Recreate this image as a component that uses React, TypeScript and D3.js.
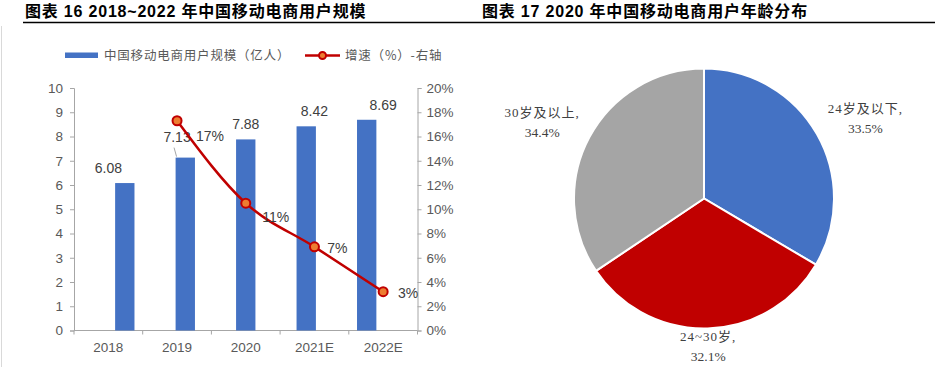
import { useEffect, useRef } from "react";
import * as d3 from "d3";

// bar + line chart data
const years: string[] = ["2018", "2019", "2020", "2021E", "2022E"];
const users: number[] = [6.08, 7.13, 7.88, 8.42, 8.69];
const growth: (number | null)[] = [null, 17.3, 10.5, 6.9, 3.2];
const growthLabels: string[] = ["", "17%", "11%", "7%", "3%"];
const leftTicks: number[] = [0, 1, 2, 3, 4, 5, 6, 7, 8, 9, 10];
const rightTicks: number[] = [0, 2, 4, 6, 8, 10, 12, 14, 16, 18, 20];

// pie data
const ageGroups: string[] = ["24岁及以下", "24~30岁", "30岁及以上"];
const agePct: number[] = [33.5, 32.1, 34.4];
const pieColors: string[] = ["#4472C4", "#C00000", "#A5A5A5"];

const BLUE = "#4472C4";
const RED = "#C00000";
const AXIS = "#A6A6A6";
const TXT = "#595959";
const SANS = "'Liberation Sans', Arial, 'Noto Sans CJK SC', sans-serif";
const CJK = "'Noto Sans CJK SC', sans-serif";
const SERIF = "'Liberation Serif', 'Times New Roman', 'Noto Sans CJK SC', serif";

function App() {
  const svgRef = useRef<SVGSVGElement>(null);

  useEffect(() => {
    if (!svgRef.current) return;
    const svg = d3.select(svgRef.current);
    svg.selectAll("*").remove();

    // titles + rule
    svg.append("line").attr("x1", 1.5).attr("x2", 1.5).attr("y1", 26).attr("y2", 367)
      .attr("stroke", "#d9d9d9").attr("stroke-width", 1);
    svg.append("line").attr("x1", 23).attr("x2", 935).attr("y1", 22.5).attr("y2", 22.5)
      .attr("stroke", "#000").attr("stroke-width", 1.5);

    const titles = [
      { x: 25, text: "图表 16 2018~2022 年中国移动电商用户规模" },
      { x: 482, text: "图表 17 2020 年中国移动电商用户年龄分布" },
    ];
    svg.selectAll(".title").data(titles).join("text")
      .attr("class", "title")
      .attr("x", d => d.x).attr("y", 16.5)
      .attr("font-family", SANS).attr("font-weight", "bold")
      .attr("font-size", 16).attr("letter-spacing", 0.8)
      .attr("fill", "#000")
      .text(d => d.text);

    // ---------- left chart ----------
    const x = d3.scaleBand().domain(years).range([74, 417.5]).padding(0.68);
    const xOuter = d3.scaleBand().domain(years).range([74, 417.5]);
    const y = d3.scaleLinear().domain([0, 10]).range([330.5, 88]);
    const yR = d3.scaleLinear().domain([0, 20]).range([330.5, 88]);

    const g = svg.append("g");

    // left axis
    const la = g.append("g").attr("transform", "translate(74,0)")
      .call(d3.axisLeft(y).tickValues(leftTicks).tickSize(4).tickPadding(7));
    // right axis
    const ra = g.append("g").attr("transform", "translate(417.5,0)")
      .call(d3.axisRight(yR).tickValues(rightTicks).tickSize(4).tickPadding(5)
        .tickFormat(d => `${d}%`));
    // bottom axis with ticks at category boundaries
    const bounds = years.map(c => xOuter(c)!).concat([417.5]);
    const ba = g.append("g").attr("transform", "translate(0,330.5)");
    ba.append("line").attr("x1", 74).attr("x2", 417.5).attr("stroke", AXIS);
    ba.selectAll(".bt").data(bounds).join("line").attr("class", "bt")
      .attr("x1", d => d).attr("x2", d => d).attr("y1", 0).attr("y2", 4).attr("stroke", AXIS);
    ba.selectAll(".bl").data(years).join("text").attr("class", "bl")
      .attr("x", d => xOuter(d)! + xOuter.bandwidth() / 2).attr("y", 21)
      .attr("text-anchor", "middle").attr("font-family", SANS).attr("font-size", 13.5)
      .attr("fill", TXT).text(d => d);

    [la, ra].forEach(a => {
      a.select(".domain").attr("stroke", AXIS);
      a.selectAll(".tick line").attr("stroke", AXIS);
      a.selectAll(".tick text").attr("font-family", SANS).attr("font-size", 13.5).attr("fill", TXT);
    });

    // bars
    g.selectAll(".bar").data(users).join("rect").attr("class", "bar")
      .attr("x", (_, i) => x(years[i])!)
      .attr("y", d => y(d))
      .attr("width", x.bandwidth())
      .attr("height", d => y(0) - y(d))
      .attr("fill", BLUE);

    // bar labels (2019 label lifted with a leader line)
    const lift = [0, 6, 0, 0, 0];
    const cx = (i: number) => xOuter(years[i])! + xOuter.bandwidth() / 2;
    g.selectAll(".bv").data(users).join("text").attr("class", "bv")
      .attr("x", (_, i) => cx(i))
      .attr("y", (d, i) => y(d) - 10 - lift[i])
      .attr("text-anchor", "middle").attr("font-family", SANS).attr("font-size", 14)
      .attr("fill", "#404040").text(d => d.toFixed(2));
    g.append("line")
      .attr("x1", cx(1) - 3).attr("y1", y(users[1]) - 10)
      .attr("x2", cx(1) - 0.5).attr("y2", y(users[1]) - 1)
      .attr("stroke", "#a6a6a6").attr("stroke-width", 1);

    // growth line
    const pts = growth.map((v, i) => ({ v, i })).filter(d => d.v !== null) as { v: number; i: number }[];
    const line = d3.line<{ v: number; i: number }>()
      .x(d => cx(d.i)).y(d => yR(d.v)).curve(d3.curveMonotoneX);
    g.append("path").datum(pts).attr("d", line)
      .attr("fill", "none").attr("stroke", RED).attr("stroke-width", 2.5);
    g.selectAll(".mk").data(pts).join("circle").attr("class", "mk")
      .attr("cx", d => cx(d.i)).attr("cy", d => yR(d.v)).attr("r", 4.5)
      .attr("fill", "#ED7D31").attr("stroke", RED).attr("stroke-width", 2);

    const gOff = [[0, 0], [0, 0], [33, 20], [30, 19], [23, 6], [25, 6]];
    g.selectAll(".gl").data(pts).join("text").attr("class", "gl")
      .attr("x", d => cx(d.i) + gOff[d.i + 1][0])
      .attr("y", d => yR(d.v) + gOff[d.i + 1][1])
      .attr("text-anchor", "middle").attr("font-family", SANS).attr("font-size", 14)
      .attr("fill", "#404040").text(d => growthLabels[d.i]);

    // legend
    const lg = svg.append("g");
    lg.append("rect").attr("x", 65).attr("y", 52.5).attr("width", 33).attr("height", 5.5).attr("fill", BLUE);
    lg.append("text").attr("x", 104).attr("y", 60).attr("font-family", CJK).attr("font-size", 12.5)
      .attr("letter-spacing", 0.8).attr("fill", TXT).text("中国移动电商用户规模（亿人）");
    lg.append("line").attr("x1", 305).attr("x2", 340).attr("y1", 55.5).attr("y2", 55.5)
      .attr("stroke", RED).attr("stroke-width", 2.5);
    lg.append("circle").attr("cx", 322.5).attr("cy", 55.5).attr("r", 3.5)
      .attr("fill", "#ED7D31").attr("stroke", RED).attr("stroke-width", 2);
    lg.append("text").attr("x", 345).attr("y", 60).attr("font-family", CJK).attr("font-size", 12.5)
      .attr("letter-spacing", 0.8).attr("fill", TXT).text("增速（%）-右轴");

    // ---------- pie ----------
    const pc = { x: 704, y: 198.5 };
    const R = 130;
    const pie = d3.pie<number>().sort(null).value(d => d);
    const arcs = pie(agePct);
    const arc = d3.arc<d3.PieArcDatum<number>>().innerRadius(0).outerRadius(R);
    const pg = svg.append("g").attr("transform", `translate(${pc.x},${pc.y})`);
    pg.selectAll("path").data(arcs).join("path")
      .attr("d", arc).attr("fill", (_, i) => pieColors[i])
      .attr("stroke", "#fff").attr("stroke-width", 2);

    const labelR = [180, 149, 180];
    const labelShift = [[5, 9], [0, -1], [-3, 9]];
    const lab = pg.selectAll(".pl").data(arcs).join("text").attr("class", "pl")
      .attr("transform", (d, i) => {
        const a = (d.startAngle + d.endAngle) / 2;
        const lx = Math.sin(a) * labelR[i] + labelShift[i][0];
        const ly = -Math.cos(a) * labelR[i] + labelShift[i][1];
        return `translate(${lx},${ly})`;
      })
      .attr("text-anchor", "middle").attr("font-family", SERIF).attr("font-size", 13)
      .attr("fill", "#404040");
    lab.append("tspan").attr("x", 0).attr("y", -5.5).attr("letter-spacing", 1)
      .text((_, i) => `${ageGroups[i]},`);
    lab.append("tspan").attr("x", 0).attr("y", 14.5).attr("font-size", 13.5)
      .text(d => `${d.data.toFixed(1)}%`);
  }, []);

  return (
    <svg ref={svgRef} width={935} height={367}
      style={{ position: "absolute", left: 0, top: 0, background: "#fff" }} />
  );
}

export default App;
